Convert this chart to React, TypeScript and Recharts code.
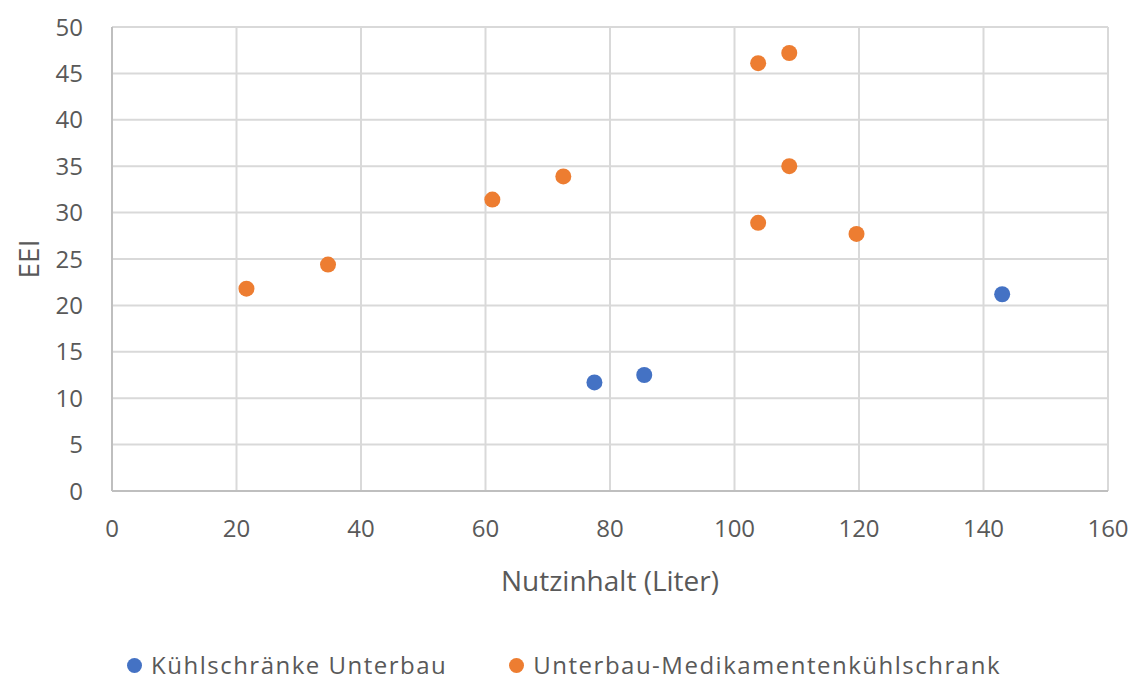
import { ScatterChart, Scatter, XAxis, YAxis, CartesianGrid, Legend } from 'recharts';

// Kühlschränke Unterbau
const unterbauVolume = [77.5, 85.5, 143];
const unterbauEei = [11.7, 12.5, 21.2];

// Unterbau-Medikamentenkühlschrank
const medVolume = [21.6, 34.7, 61.1, 72.5, 103.8, 103.8, 108.8, 108.8, 119.6];
const medEei = [21.8, 24.4, 31.4, 33.9, 28.9, 46.1, 47.2, 35.0, 27.7];

const xTicks = [0, 20, 40, 60, 80, 100, 120, 140, 160];
const yTicks = [0, 5, 10, 15, 20, 25, 30, 35, 40, 45, 50];

const BLUE = '#4472C4';
const ORANGE = '#ED7D31';
const TEXT = '#595959';
const FONT = '"Open Sans", "Liberation Sans", sans-serif';

const unterbauData = unterbauVolume.map((x, i) => ({ x, y: unterbauEei[i] }));
const medData = medVolume.map((x, i) => ({ x, y: medEei[i] }));

const dot = (color: string) => (props: any) => (
  <circle cx={props.cx} cy={props.cy} r={8} fill={color} />
);

const legendItems = [
  { name: 'Kühlschränke Unterbau', color: BLUE },
  { name: 'Unterbau-Medikamentenkühlschrank', color: ORANGE },
];

function ChartLegend() {
  return (
    <div
      style={{
        height: 70,
        boxSizing: 'border-box',
        paddingTop: 40,
        paddingLeft: 20,
        display: 'flex',
        justifyContent: 'center',
        alignItems: 'center',
        gap: 62,
        fontFamily: FONT,
        fontSize: 24,
        letterSpacing: 1.5,
        color: TEXT,
      }}
    >
      {legendItems.map((item) => (
        <div key={item.name} style={{ display: 'flex', alignItems: 'center', gap: 9 }}>
          <span
            style={{
              width: 15,
              height: 15,
              borderRadius: '50%',
              background: item.color,
              display: 'inline-block',
            }}
          />
          <span style={{ lineHeight: '30px' }}>{item.name}</span>
        </div>
      ))}
    </div>
  );
}

export default function App() {
  return (
    <div style={{ position: 'absolute', left: 0, top: 0, background: '#fff' }}>
      <ScatterChart
        width={1136}
        height={680}
        margin={{ top: 27, right: 28, bottom: 0, left: 0 }}
      >
        <CartesianGrid stroke="#D9D9D9" strokeWidth={2} />
        <XAxis
          type="number"
          dataKey="x"
          domain={[0, 160]}
          ticks={xTicks}
          interval={0}
          height={119}
          tickLine={false}
          tickSize={0}
          tickMargin={29}
          axisLine={{ stroke: '#BFBFBF', strokeWidth: 2 }}
          tick={{ fill: TEXT, fontSize: 24, fontFamily: FONT }}
          label={{
            content: (p: any) => (
              <text
                x={p.viewBox.x + p.viewBox.width / 2}
                y={p.viewBox.y + 89}
                textAnchor="middle"
                dominantBaseline="central"
                fill={TEXT}
                fontSize={28}
                fontFamily={FONT}
              >
                Nutzinhalt (Liter)
              </text>
            ),
          }}
        />
        <YAxis
          type="number"
          dataKey="y"
          domain={[0, 50]}
          ticks={yTicks}
          interval={0}
          width={112}
          tickLine={false}
          tickSize={0}
          tickMargin={29}
          axisLine={{ stroke: '#BFBFBF', strokeWidth: 2 }}
          tick={{ fill: TEXT, fontSize: 24, fontFamily: FONT }}
          label={{
            content: (p: any) => {
              const cx = 28;
              const cy = p.viewBox.y + p.viewBox.height / 2;
              return (
                <text
                  x={cx}
                  y={cy}
                  transform={`rotate(-90 ${cx} ${cy})`}
                  textAnchor="middle"
                  dominantBaseline="central"
                  fill={TEXT}
                  fontSize={28}
                  fontFamily={FONT}
                >
                  EEI
                </text>
              );
            },
          }}
        />
        <Legend verticalAlign="bottom" height={70} content={() => <ChartLegend />} />
        <Scatter
          name="Kühlschränke Unterbau"
          data={unterbauData}
          fill={BLUE}
          shape={dot(BLUE)}
          isAnimationActive={false}
        />
        <Scatter
          name="Unterbau-Medikamentenkühlschrank"
          data={medData}
          fill={ORANGE}
          shape={dot(ORANGE)}
          isAnimationActive={false}
        />
      </ScatterChart>
    </div>
  );
}
